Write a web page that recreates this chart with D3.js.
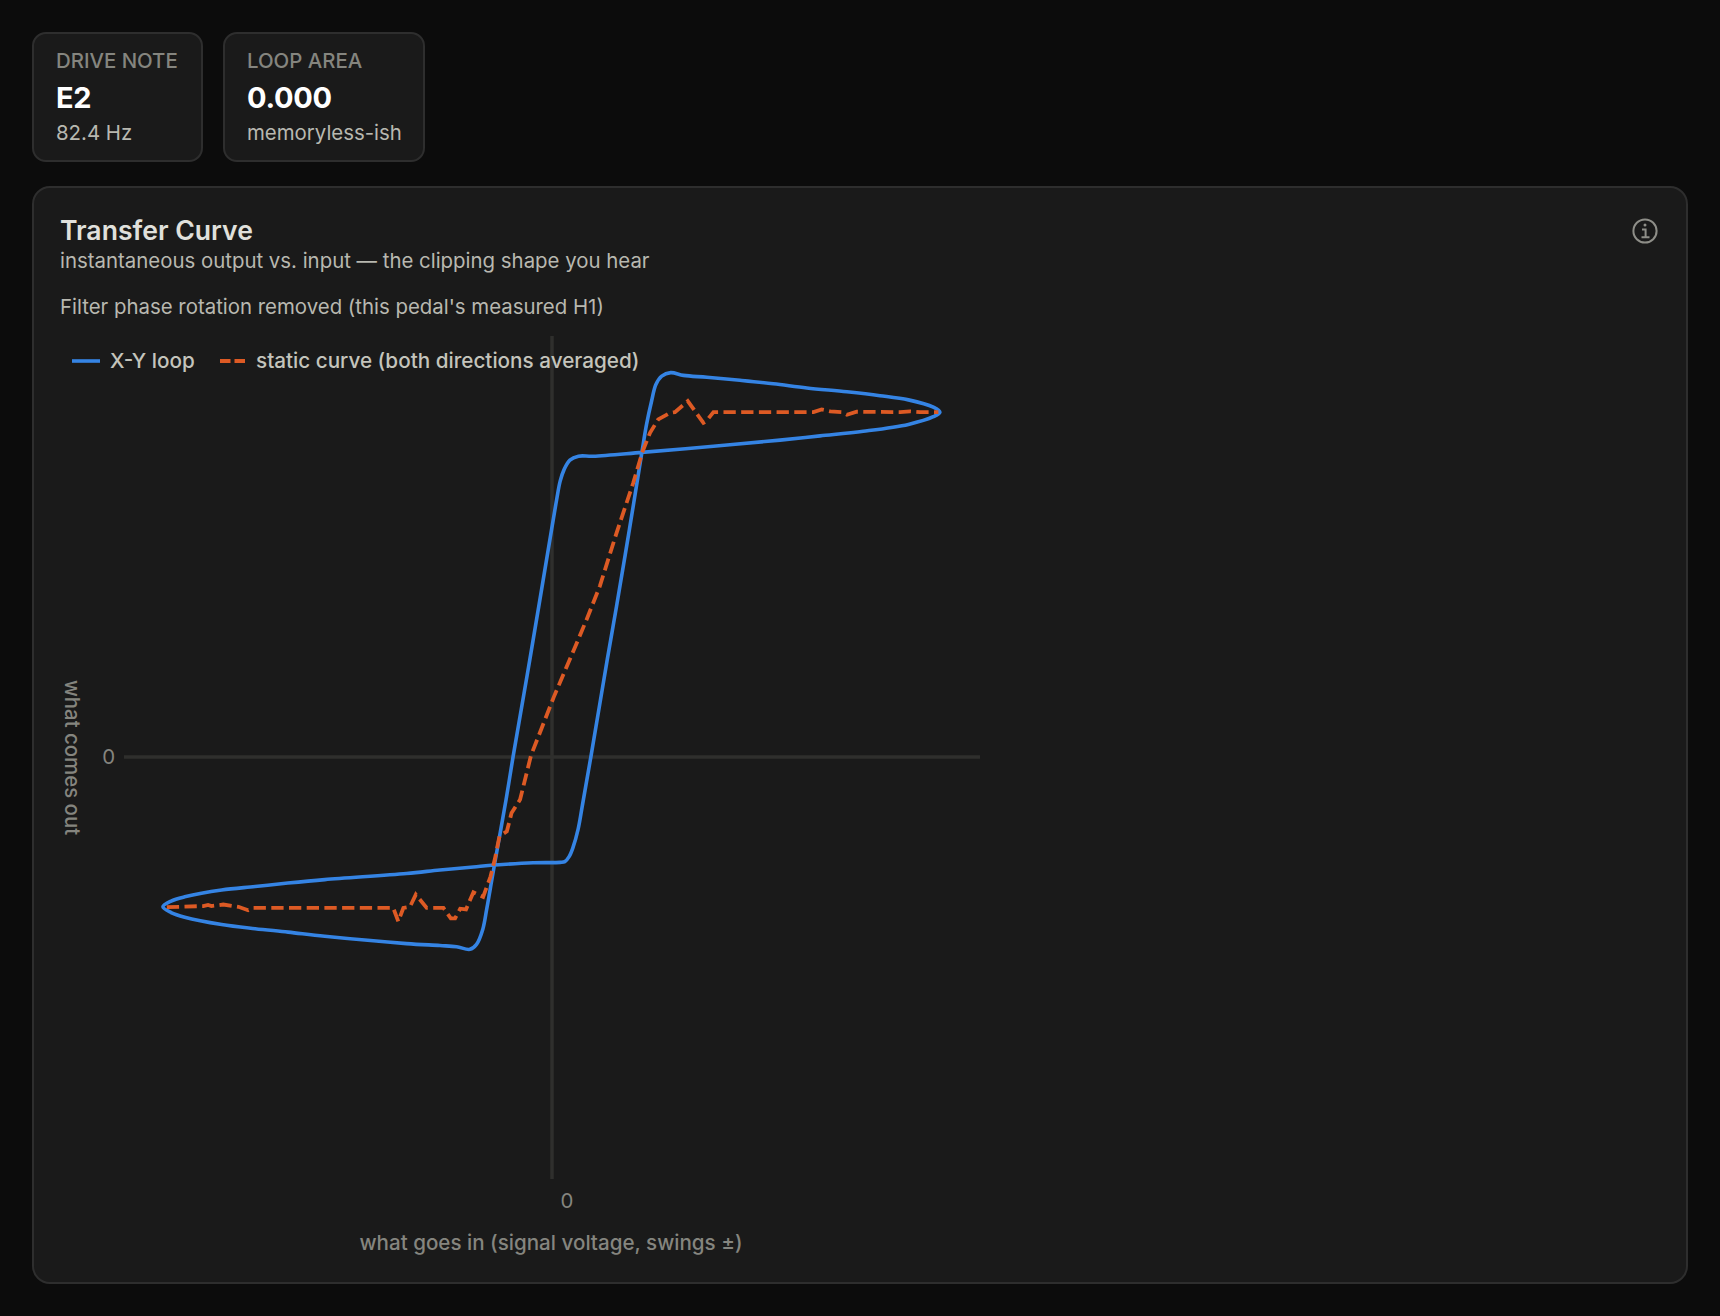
<!doctype html>
<html>
  <head>
    <meta charset="utf-8">
    <title>Transfer Curve</title>
    <script src="https://cdnjs.cloudflare.com/ajax/libs/d3/7.8.5/d3.min.js"></script>
    <style>
      html, body { margin: 0; width: 1720px; height: 1316px; overflow: hidden; background: #0c0c0c; font-family: Inter, sans-serif; }
      .box { position: absolute; box-sizing: border-box; background: #1a1a1a; border: 2px solid #2e2e2e; }
      .stat { top: 32px; height: 130px; border-radius: 14px; }
      .panel { left: 32px; top: 186px; width: 1656px; height: 1098px; border-radius: 18px; }
      .t { position: absolute; white-space: nowrap; line-height: 1; }
      .label { font-size: 20.4px; color: #85857f; font-weight: 500; }
      .value { font-size: 29px; color: #fff; font-weight: 700; letter-spacing: -0.3px; }
      .sub { font-size: 20.4px; color: #b8b8b0; }
      svg { position: absolute; left: 0; top: 0; }
    </style>
  </head>
  <body>
    <div class="box stat" style="left:32px;width:171px"></div>
    <div class="box stat" style="left:223px;width:202px"></div>
    <div class="box panel"></div>

    <div class="t label" style="left:56px;top:51px">DRIVE NOTE</div>
    <div class="t value" style="left:56px;top:83px">E2</div>
    <div class="t sub" style="left:56px;top:123px">82.4 Hz</div>
    <div class="t label" style="left:247px;top:51px">LOOP AREA</div>
    <div class="t value" style="left:247px;top:83px">0.000</div>
    <div class="t sub" style="left:247px;top:123px">memoryless-ish</div>

    <div class="t" style="left:60px;top:217px;font-size:26.6px;font-weight:600;color:#e0e0dc">Transfer Curve</div>
    <div class="t sub" style="left:60px;top:251px">instantaneous output vs. input — the clipping shape you hear</div>
    <div class="t sub" style="left:60px;top:297px">Filter phase rotation removed (this pedal's measured H1)</div>

    <svg id="chart" width="1720" height="1316"></svg>

    <script>
      // values, input and output normalised to the peak
      const loopX = [0.997, 0.980, 0.916, 0.843, 0.758, 0.655, 0.569, 0.483, 0.398, 0.338, 0.305, 0.282, 0.267, 0.256, 0.243, 0.231, 0.199, 0.166, 0.142, 0.100, 0.078, 0.067, 0.054, 0.044, 0.033, 0.021, -0.048, -0.147, -0.202, -0.288, -0.374, -0.584, -0.679, -0.763, -0.849, -0.944, -0.979, -1.000, -0.979, -0.944, -0.849, -0.763, -0.678, -0.584, -0.374, -0.288, -0.245, -0.211, -0.194, -0.178, -0.168, -0.159, -0.147, -0.118, -0.100, -0.057, -0.001, 0.012, 0.021, 0.031, 0.046, 0.068, 0.106, 0.231, 0.415, 0.586, 0.689, 0.800, 0.916, 0.980];
      const loopY = [0.900, 0.913, 0.932, 0.943, 0.953, 0.963, 0.974, 0.983, 0.991, 0.996, 1.003, 0.994, 0.972, 0.929, 0.868, 0.795, 0.594, 0.394, 0.254, 0.001, -0.127, -0.189, -0.236, -0.260, -0.273, -0.275, -0.276, -0.282, -0.287, -0.295, -0.304, -0.320, -0.329, -0.338, -0.347, -0.365, -0.376, -0.391, -0.406, -0.418, -0.437, -0.448, -0.457, -0.468, -0.487, -0.492, -0.495, -0.502, -0.489, -0.450, -0.398, -0.346, -0.276, -0.111, 0.001, 0.254, 0.594, 0.672, 0.720, 0.750, 0.775, 0.785, 0.785, 0.795, 0.811, 0.827, 0.838, 0.850, 0.868, 0.888];

      const staticX = [-0.990, -0.896, -0.884, -0.875, -0.845, -0.806, -0.781, -0.768, -0.408, -0.395, -0.382, -0.365, -0.350, -0.322, -0.279, -0.260, -0.249, -0.236, -0.221, -0.202, -0.177, -0.158, -0.147, -0.135, -0.116, -0.104, -0.082, -0.054, 0.004, 0.061, 0.089, 0.123, 0.166, 0.209, 0.233, 0.252, 0.273, 0.303, 0.316, 0.349, 0.389, 0.396, 0.415, 0.672, 0.693, 0.715, 0.745, 0.758, 0.783, 0.895, 0.920, 0.946, 0.993];
      const staticY = [-0.392, -0.389, -0.386, -0.389, -0.385, -0.391, -0.400, -0.394, -0.394, -0.429, -0.394, -0.391, -0.359, -0.394, -0.394, -0.421, -0.421, -0.396, -0.398, -0.353, -0.365, -0.312, -0.267, -0.207, -0.194, -0.146, -0.111, 0.004, 0.155, 0.291, 0.359, 0.446, 0.585, 0.716, 0.798, 0.846, 0.881, 0.898, 0.900, 0.929, 0.872, 0.876, 0.900, 0.900, 0.907, 0.902, 0.900, 0.893, 0.901, 0.900, 0.902, 0.900, 0.900];

      const xTicks = [0], yTicks = [0];
      const legendNames = ['X-Y loop', 'static curve (both directions averaged)'];
      const blue = '#3584e4', orange = '#dd5a24', zeroLine = '#2f2f2d', axisText = '#85857f';

      const x = d3.scaleLinear().domain([-1.1, 1.1]).range([124, 980]);
      const y = d3.scaleLinear().domain([-1.1, 1.1]).range([1178.5, 335.5]);

      const svg = d3.select('#chart');

      // axes: only the zero tick, drawn across the whole plot
      const xAxis = svg.append('g')
        .attr('transform', 'translate(0,1179)')
        .call(d3.axisBottom(x).offset(0).tickValues(xTicks).tickSizeOuter(0).tickFormat(d3.format('d')));
      xAxis.select('.tick line').attr('y2', -843);
      xAxis.select('.tick text').attr('x', 15).attr('y', 22).attr('dy', '0.35em');

      const yAxis = svg.append('g')
        .attr('transform', 'translate(124,0)')
        .call(d3.axisLeft(y).offset(0).tickValues(yTicks).tickSizeOuter(0).tickFormat(d3.format('d')));
      yAxis.select('.tick line').attr('x1', 0).attr('x2', 856);
      yAxis.select('.tick text').attr('x', -9).attr('dy', '0.35em');

      svg.selectAll('.domain').remove();
      svg.selectAll('.tick line').attr('stroke', zeroLine).attr('stroke-width', 3.5);
      svg.selectAll('.tick text').attr('fill', axisText).style('font-family', 'Inter').style('font-size', '20.4px');

      // axis titles
      svg.append('text')
        .attr('x', 551).attr('y', 1243).attr('dy', '0.35em')
        .attr('text-anchor', 'middle').attr('fill', axisText)
        .style('font-size', '20.6px').style('font-weight', 500)
        .text('what goes in (signal voltage, swings ±)');
      svg.append('text')
        .attr('transform', 'translate(72,757.5) rotate(90)').attr('dy', '0.35em')
        .attr('text-anchor', 'middle').attr('fill', axisText)
        .style('font-size', '20.4px').style('font-weight', 500)
        .text('what comes out');

      // the two curves
      const loopLine = d3.line().x(d => x(d[0])).y(d => y(d[1])).curve(d3.curveCatmullRomClosed.alpha(0.5));
      const staticLine = d3.line().x(d => x(d[0])).y(d => y(d[1]));

      svg.append('path')
        .attr('d', loopLine(d3.zip(loopX, loopY)))
        .attr('fill', 'none').attr('stroke', blue).attr('stroke-width', 3.6);
      svg.append('path')
        .attr('d', staticLine(d3.zip(staticX, staticY)))
        .attr('fill', 'none').attr('stroke', orange).attr('stroke-width', 3.8)
        .attr('stroke-dasharray', '12.3 5.4');

      // legend
      const legend = svg.append('g').attr('transform', 'translate(0,361)');
      legend.append('line').attr('x1', 72).attr('x2', 100).attr('stroke', blue).attr('stroke-width', 3.6);
      legend.append('line').attr('x1', 220).attr('x2', 245).attr('stroke', orange).attr('stroke-width', 3.8).attr('stroke-dasharray', '10.5 4');
      legend.selectAll('text').data(legendNames).join('text')
        .attr('x', (d, i) => i === 0 ? 110 : 256)
        .attr('dy', '0.35em')
        .attr('fill', '#c4c4bc')
        .style('font-size', '20.7px').style('font-weight', 500)
        .text(d => d);

      // info icon
      const info = svg.append('g').attr('transform', 'translate(1645,231)');
      info.append('circle').attr('r', 11.6).attr('fill', 'none').attr('stroke', '#8e8e88').attr('stroke-width', 2);
      info.append('circle').attr('cy', -6).attr('r', 1.5).attr('fill', '#8e8e88');
      info.append('path').attr('d', 'M-3 -1.5H0.6V6.2M-3.5 6.2H4.5').attr('fill', 'none').attr('stroke', '#8e8e88').attr('stroke-width', 2);
    </script>
  </body>
</html>
